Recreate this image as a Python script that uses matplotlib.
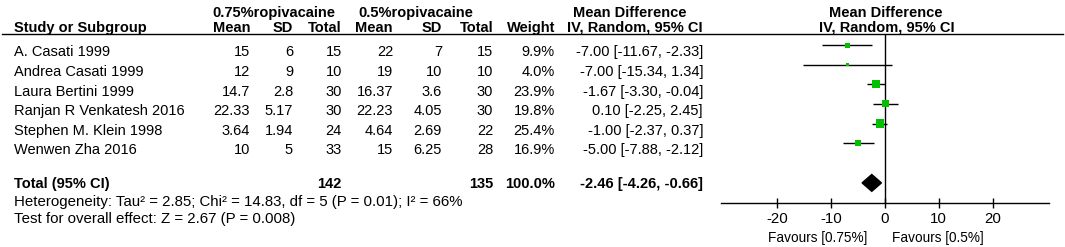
import numpy as np
import matplotlib
matplotlib.use("Agg")
import matplotlib.pyplot as plt
from matplotlib import transforms
from matplotlib.lines import Line2D

plt.rcParams["font.family"] = ["Liberation Sans", "DejaVu Sans"]

# ---- data ----
studies = ["A. Casati 1999", "Andrea Casati 1999", "Laura Bertini 1999",
           "Ranjan R Venkatesh 2016", "Stephen M. Klein 1998", "Wenwen Zha 2016"]
mean_hi = [15, 12, 14.7, 22.33, 3.64, 10]
sd_hi = [6, 9, 2.8, 5.17, 1.94, 5]
n_hi = [15, 10, 30, 30, 24, 33]
mean_lo = [22, 19, 16.37, 22.23, 4.64, 15]
sd_lo = [7, 10, 3.6, 4.05, 2.69, 6.25]
n_lo = [15, 10, 30, 30, 22, 28]
weight = [9.9, 4.0, 23.9, 19.8, 25.4, 16.9]
md = [-7.00, -7.00, -1.67, 0.10, -1.00, -5.00]
ci_low = [-11.67, -15.34, -3.30, -2.25, -2.37, -7.88]
ci_high = [-2.33, 1.34, -0.04, 2.45, 0.37, -2.12]

pooled_md, pooled_low, pooled_high = -2.46, -4.26, -0.66
total_weight = 100.0
heterogeneity = "Heterogeneity: Tau² = 2.85; Chi² = 14.83, df = 5 (P = 0.01); I² = 66%"
overall_test = "Test for overall effect: Z = 2.67 (P = 0.008)"
x_ticks = [-20, -10, 0, 10, 20]

# ---- layout (pixels of the 1065x247 canvas) ----
W, H = 1065, 247
FS = 10.5
GREEN = "#00c000"

fig = plt.figure(figsize=(W / 100, H / 100), dpi=100)


def fx(px):
    return px / W


def fy(py):
    return 1 - py / H


# row index i sits at y = 51 + 19.6 * i pixels
ax_top, ax_bot = 34, 203
ax = fig.add_axes([fx(721), fy(ax_bot), (1049 - 721) / W, (ax_bot - ax_top) / H])
ax.set_xlim(-30.5, 30.5)
ax.set_ylim((ax_bot - 51) / 19.6, (ax_top - 51) / 19.6)
for s in ["top", "left", "right"]:
    ax.spines[s].set_visible(False)
ax.spines["bottom"].set_linewidth(1)
ax.set_yticks([])
ax.set_xticks(x_ticks)
ax.set_xticklabels([str(t) for t in x_ticks])
ax.tick_params(axis="x", direction="inout", length=7, width=1, labelsize=10.8, pad=3)
ax.patch.set_alpha(0)

rows = np.arange(len(studies))
total_row = 6.73
mark_y = rows - 0.3

ax.axvline(0, color="black", lw=1, zorder=1)
ax.hlines(mark_y, ci_low, ci_high, color="black", lw=1, zorder=2)
side_px = np.maximum(1.6 * np.sqrt(weight), 3.5)
ax.scatter(md, mark_y, marker="s", s=(side_px * 0.72) ** 2, color=GREEN, linewidths=0, zorder=3)
dh = 0.43
ax.fill([pooled_low, pooled_md, pooled_high, pooled_md],
        [total_row, total_row - dh, total_row, total_row + dh], color="black", zorder=3)

# header rule across the whole figure
fig.add_artist(Line2D([fx(2), fx(1063)], [fy(34), fy(34)], color="black", lw=1))

# ---- table text ----
bt = transforms.blended_transform_factory(fig.transFigure, ax.transData)


def cell(x, y, s, ha="right", bold=False, size=FS):
    fig.text(fx(x), y + 0.07, s, transform=bt, ha=ha, va="center", fontsize=size,
             fontweight="bold" if bold else "normal")


def head(x, y, s, ha="left"):
    fig.text(fx(x), fy(y), s, ha=ha, va="baseline", fontsize=FS, fontweight="bold")


head(212, 17, "0.75%ropivacaine")
head(358, 17, "0.5%ropivacaine")
head(573, 17, "Mean Difference")
head(886, 17, "Mean Difference", ha="center")
head(14, 32, "Study or Subgroup")
for x, s in [(250, "Mean"), (293, "SD"), (342, "Total"), (393, "Mean"),
             (442, "SD"), (493, "Total"), (555, "Weight"), (703, "IV, Random, 95% CI")]:
    head(x, 32, s, ha="right")
head(887, 32, "IV, Random, 95% CI", ha="center")

for i, name in enumerate(studies):
    cell(14, i, name, ha="left")
    cell(250, i, f"{mean_hi[i]:g}")
    cell(293, i, f"{sd_hi[i]:g}")
    cell(342, i, f"{n_hi[i]}")
    cell(393, i, f"{mean_lo[i]:g}")
    cell(442, i, f"{sd_lo[i]:g}")
    cell(493, i, f"{n_lo[i]}")
    cell(555, i, f"{weight[i]:.1f}%")
    cell(703, i, f"{md[i]:.2f} [{ci_low[i]:.2f}, {ci_high[i]:.2f}]")

cell(14, total_row, "Total (95% CI)", ha="left", bold=True)
cell(342, total_row, f"{sum(n_hi)}", bold=True)
cell(493, total_row, f"{sum(n_lo)}", bold=True)
cell(555, total_row, f"{total_weight:.1f}%", bold=True)
cell(703, total_row, f"{pooled_md:.2f} [{pooled_low:.2f}, {pooled_high:.2f}]", bold=True)

fig.text(fx(14), fy(201.5), heterogeneity, ha="left", va="center", fontsize=10.85)
fig.text(fx(14), fy(219), overall_test, ha="left", va="center", fontsize=10.85)

fig.text(fx(867), fy(237.5), "Favours [0.75%]", ha="right", va="center", fontsize=9.8)
fig.text(fx(892), fy(237.5), "Favours [0.5%]", ha="left", va="center", fontsize=9.8)

fig.savefig("out.png", dpi=100)
